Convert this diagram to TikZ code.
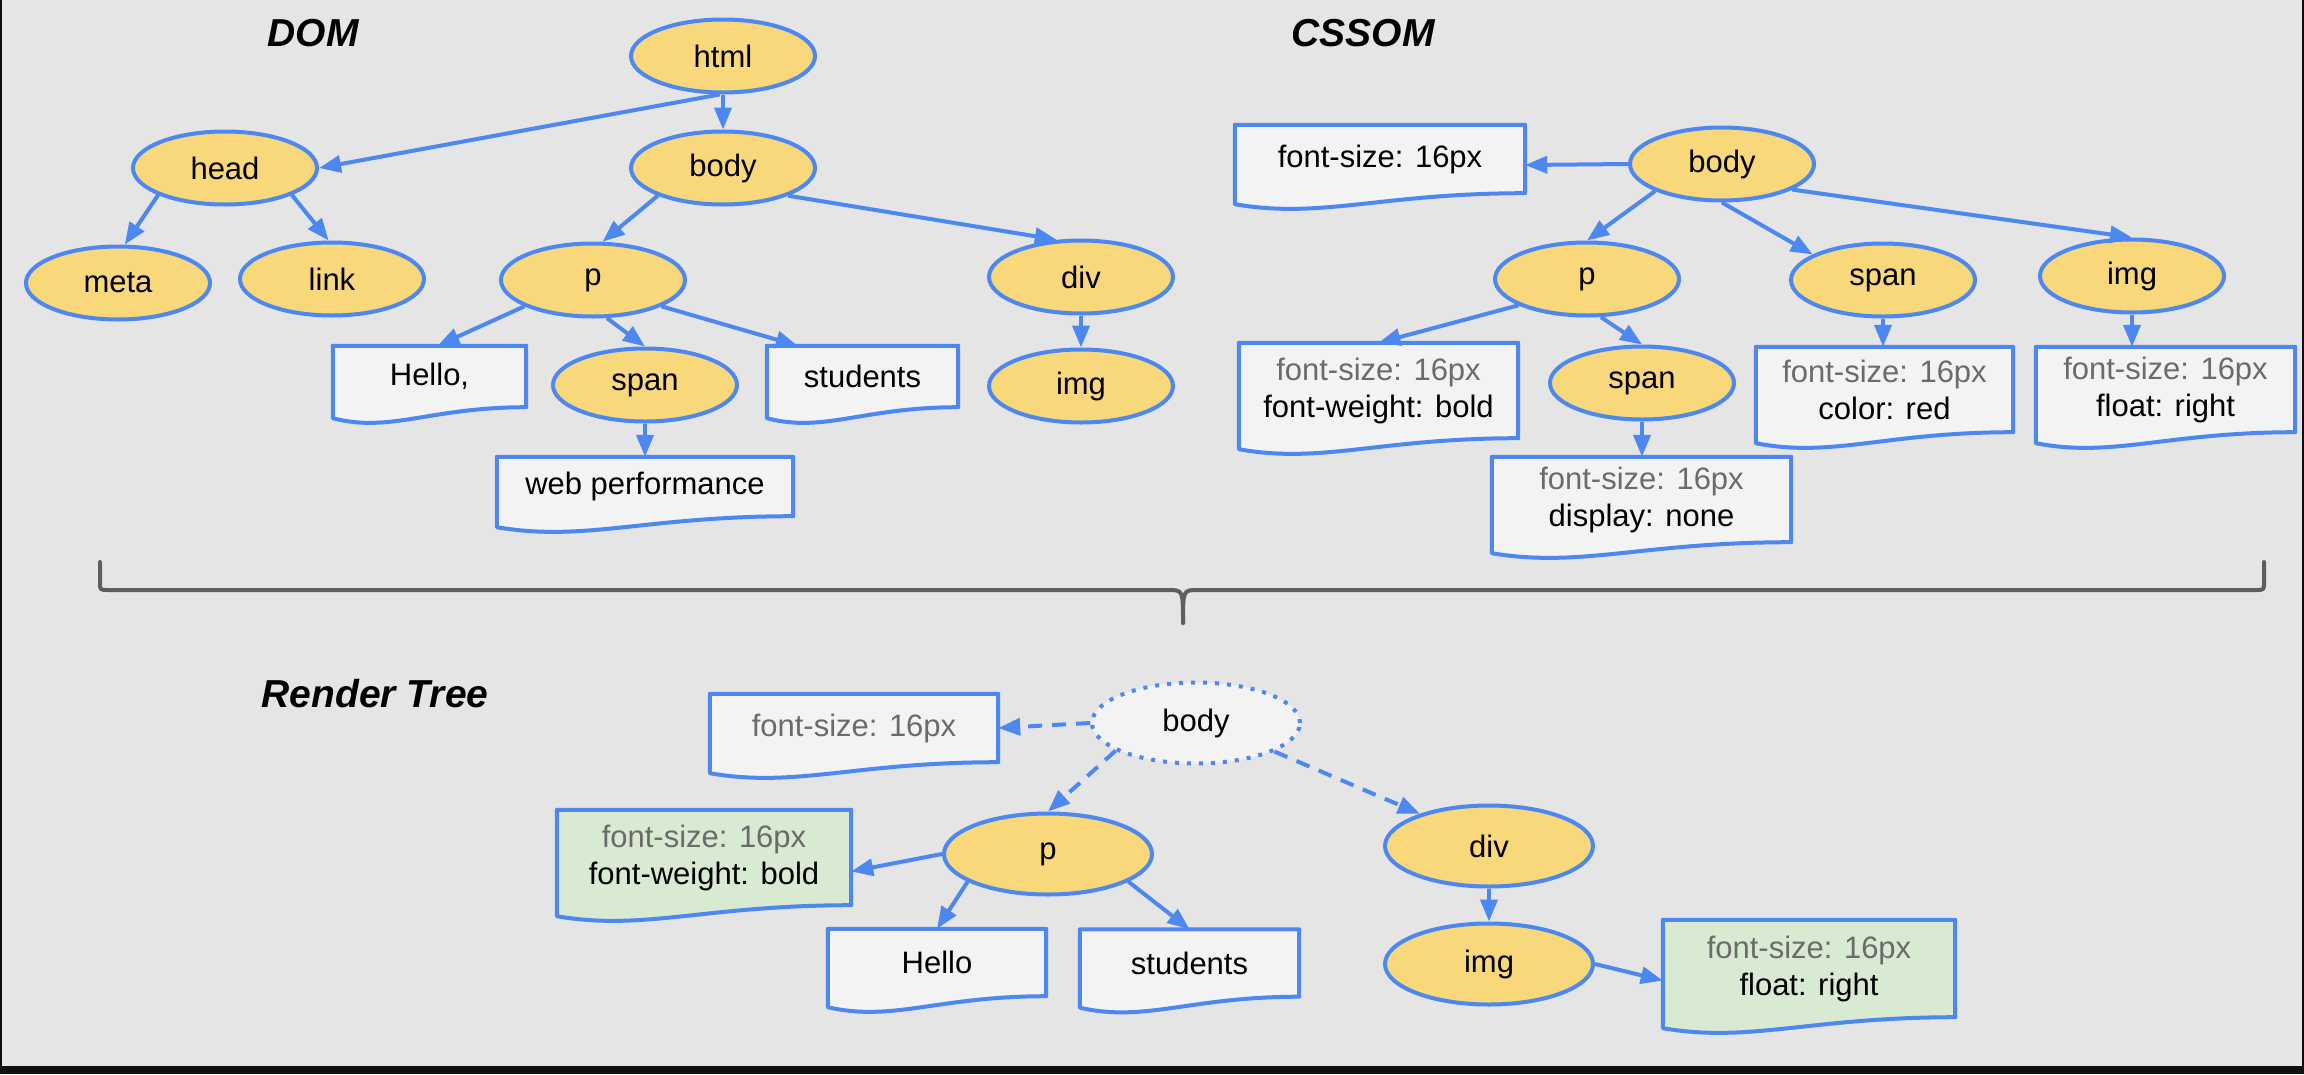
\documentclass[tikz,border=0pt]{standalone}
\usepackage{fontspec}
\setmainfont{Liberation Sans}
\usetikzlibrary{arrows.meta,calc,shapes.geometric}
\definecolor{canvasgray}{HTML}{E5E5E5}
\definecolor{framedark}{HTML}{0F0F0F}
\definecolor{linkblue}{HTML}{4D87F0}
\definecolor{nodeyellow}{HTML}{F8D87A}
\definecolor{paperfill}{HTML}{F3F3F3}
\definecolor{greenfill}{HTML}{D9EAD3}
\definecolor{softtext}{HTML}{6B6B6B}
\definecolor{bracegray}{HTML}{5E5E5E}
\pgfdeclarelayer{canvas}
\pgfdeclarelayer{paper}
\pgfsetlayers{canvas,paper,main}

\tikzset{
  base/.style={font=\fontsize{31}{37}\selectfont, text=black},
  tag/.style={base, ellipse, draw=linkblue, fill=nodeyellow, line width=4pt,
    minimum width=184pt, minimum height=73pt, inner sep=0pt},
  bigtag/.style={tag, minimum width=208pt, minimum height=81pt},
  ghosttag/.style={bigtag, fill=paperfill, dash pattern=on 4pt off 8pt},
  doc/.style={base, rectangle, inner sep=0pt, align=center},
  docline/.style={draw=linkblue, line width=4pt, line join=round},
  link/.style={draw=linkblue, line width=4pt, -{Triangle[length=22pt,width=17pt]}},
  dlink/.style={link, dash pattern=on 14pt off 10pt},
  heading/.style={font=\fontsize{39}{46}\selectfont\bfseries\itshape},
  bracket/.style={draw=bracegray, line width=4pt, line cap=round, line join=round},
}

% outline of a document box: straight top and sides, wavy bottom edge
\newcommand\wavedoc[2]{%
  \path[docline, fill=#2] (#1.north west) -- (#1.north east) -- (#1.south east)
    .. controls ($(#1.south east)!0.5!(#1.south west)$)
    and ($(#1.south east)!0.7!(#1.south west)+(0,26)$)
    .. ($(#1.south west)+(0,11)$) -- cycle;}

\newcommand\grey[1]{{\color{softtext}#1}}

\begin{document}
\begin{tikzpicture}[x=1pt,y=-1pt]
\begin{pgfonlayer}{canvas}
  \fill[framedark] (0,0) rectangle (2304,1074);
  \fill[canvasgray] (2,0) rectangle (2302,1066);
\end{pgfonlayer}
\useasboundingbox (0,0) rectangle (2304,1074);

% headings
\node[heading] (domtitle) at (313,33) {DOM};
\node[heading] (cssomtitle) at (1363,33) {CSSOM};
\node[heading] (rendertitle) at (375,694) {Render Tree};

% ---- DOM ----
\node[tag] (html) at (723,56) {html};
\node[tag] (head) at (225,168) {head};
\node[tag] (body) at (723,168) {body};
\node[tag] (meta) at (118,283) {meta};
\node[tag] (link) at (332,279) {link};
\node[tag] (p) at (593,280) {p};
\node[tag] (div) at (1081,277) {div};
\node[tag] (span) at (645,385) {span};
\node[tag] (img) at (1081,386) {img};
\node[doc, minimum width=193pt, minimum height=61pt] (hello) at (429.5,376.5) {Hello,};
\node[doc, minimum width=191pt, minimum height=61pt] (students) at (862.5,376.5) {students};
\node[doc, minimum width=296pt, minimum height=59pt] (web) at (645,486.5) {web performance};

% ---- CSSOM ----
\node[tag] (cbody) at (1722,164) {body};
\node[tag] (cp) at (1587,279) {p};
\node[tag] (cspan) at (1883,280) {span};
\node[tag] (cimg) at (2132,276) {img};
\node[tag] (cspan2) at (1642,383) {span};
\node[doc, minimum width=290pt, minimum height=68pt] (cfs) at (1380,159) {font-size: 16px};
\node[doc, minimum width=279pt, minimum height=95pt] (cfw) at (1378.5,390.5)
  {\grey{font-size: 16px}\\font-weight: bold};
\node[doc, minimum width=257pt, minimum height=85pt] (ccolor) at (1884.5,389.5)
  {\grey{font-size: 16px}\\color: red};
\node[doc, minimum width=259pt, minimum height=85pt] (cfloat) at (2165.5,389.5)
  {\grey{font-size: 16px}\\float: right};
\node[doc, minimum width=299pt, minimum height=85pt] (cdisp) at (1641.5,499.5)
  {\grey{font-size: 16px}\\display: none};

% ---- Render tree ----
\node[ghosttag] (rbody) at (1196,723) {body};
\node[bigtag] (rp) at (1048,854) {p};
\node[bigtag] (rdiv) at (1489,846) {div};
\node[bigtag] (rimg) at (1489,964) {img};
\node[doc, minimum width=288pt, minimum height=68pt] (rfs) at (854,728) {\grey{font-size: 16px}};
\node[doc, minimum width=294pt, minimum height=95pt] (rfw) at (704,857.5)
  {\grey{font-size: 16px}\\font-weight: bold};
\node[doc, minimum width=218pt, minimum height=67pt] (rhello) at (937,962.5) {Hello};
\node[doc, minimum width=219pt, minimum height=67pt] (rstudents) at (1189.5,963) {students};
\node[doc, minimum width=292pt, minimum height=97pt] (rfloat) at (1809,968.5)
  {\grey{font-size: 16px}\\float: right};

% document outlines behind their text
\begin{pgfonlayer}{paper}
  \foreach \n/\c in {hello/paperfill, students/paperfill, web/paperfill,
      cfs/paperfill, cfw/paperfill, ccolor/paperfill, cfloat/paperfill, cdisp/paperfill,
      rfs/paperfill, rfw/greenfill, rhello/paperfill, rstudents/paperfill, rfloat/greenfill}
    {\wavedoc{\n}{\c}}
\end{pgfonlayer}

% DOM edges
\draw[link] (html.265) -- (head.east);
\draw[link] (html) -- (body);
\draw[link] (head.202) -- (meta.80);
\draw[link] (head.338) -- (link.95);
\draw[link] (body.203) -- (p.76);
\draw[link] (body.337) -- (div.123);
\draw[link] (p.201) -- ([xshift=8pt]hello.north);
\draw[link] (p.290) -- (span.north);
\draw[link] (p.339) -- ([xshift=31pt]students.north west);
\draw[link] (div) -- (img);
\draw[link] (span) -- (web);

% CSSOM edges
\draw[link] (cbody.west) -- ([yshift=-6pt]cfs.east);
\draw[link] (cbody.202) -- (cp.north);
\draw[link] (cbody.south) -- (cspan.160);
\draw[link] (cbody.340) -- (cimg.north);
\draw[link] (cp.201) -- (cfw.north);
\draw[link] (cp.290) -- (cspan2.north);
\draw[link] (cspan.south) -- (cspan.south |- ccolor.north);
\draw[link] (cimg.south) -- (cimg.south |- cfloat.north);
\draw[link] (cspan2.south) -- (cspan2.south |- cdisp.north);

% render tree edges
\draw[dlink] (rbody.west) -- (rfs.east);
\draw[dlink] (rbody.199) -- (rp.north);
\draw[dlink] (rbody.340) -- (rdiv.155);
\draw[link] (rp.west) -- ([yshift=-14pt]rfw.east);
\draw[link] (rp.199) -- (rhello.north);
\draw[link] (rp.341) -- (rstudents.north);
\draw[link] (rdiv) -- (rimg);
\draw[link] (rimg.east) -- ([yshift=-12pt]rfloat.west);

% brace joining DOM and CSSOM into the render tree
\coordinate (braceL) at (100,562);
\coordinate (braceR) at (2264,562);
\coordinate (braceTip) at (1183,623);
\draw[bracket] (braceL) -- (100,582) .. controls (100,590) .. (108,590)
  -- (1168,590) .. controls (1183,590) .. (braceTip);
\draw[bracket] (braceR) -- (2264,582) .. controls (2264,590) .. (2256,590)
  -- (1198,590) .. controls (1183,590) .. (braceTip);
\end{tikzpicture}
\end{document}
